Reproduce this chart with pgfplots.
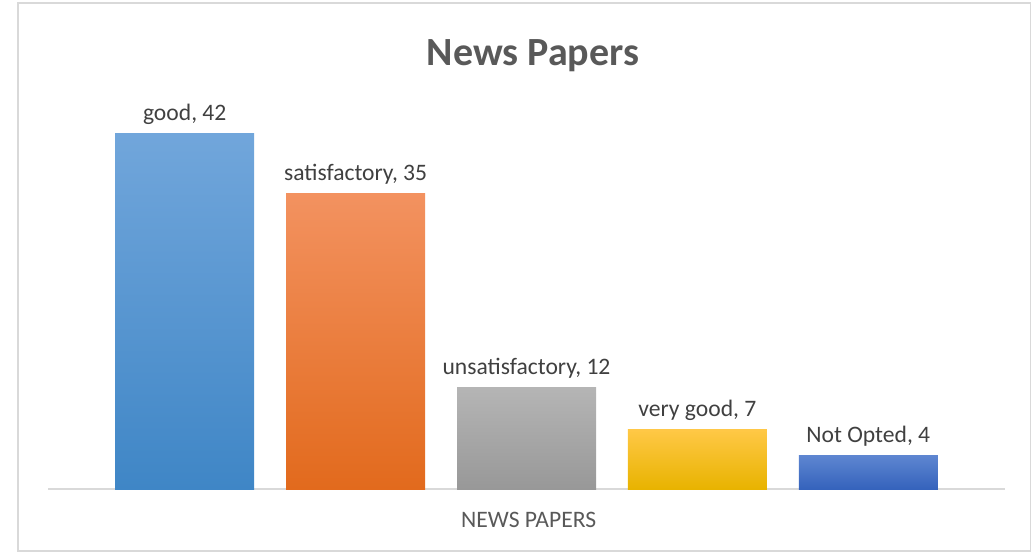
\documentclass[border=0pt]{standalone}
\usepackage{pgfplots}
\pgfplotsset{compat=1.18}
\usepackage{fontspec}
\setmainfont{Carlito}
\definecolor{frame}{HTML}{D9D9D9}
\definecolor{txt}{HTML}{404040}
\definecolor{ttl}{HTML}{595959}
\definecolor{cat}{HTML}{595959}
\definecolor{c1t}{HTML}{71A6DB}
\definecolor{c1b}{HTML}{3F86C6}
\definecolor{c2t}{HTML}{F39260}
\definecolor{c2b}{HTML}{E26A1D}
\definecolor{c3t}{HTML}{B5B5B5}
\definecolor{c3b}{HTML}{989898}
\definecolor{c4t}{HTML}{FFC846}
\definecolor{c4b}{HTML}{E8B300}
\definecolor{c5t}{HTML}{5E86D1}
\definecolor{c5b}{HTML}{3563BC}
\begin{document}
\begin{tikzpicture}
\useasboundingbox (0,0) rectangle (516pt,276pt);
\draw[draw=frame, line width=0.75pt] (9pt,0.5pt) rectangle (515.2pt,274.5pt);
\node[anchor=base, font=\bfseries\fontsize{20}{24}\selectfont, text=ttl] at (266.5pt,243pt) {News Papers};
\node[anchor=base, font=\fontsize{11.8}{14}\selectfont, text=cat] at (264.3pt,12.5pt) {NEWS PAPERS};
\begin{axis}[
  at={(24pt,31.5pt)}, anchor=south west,
  scale only axis, width=478.5pt, height=190.2pt,
  xmin=-0.8, xmax=4.8, ymin=0, ymax=45,
  hide axis, clip=false,
  bar width=69.5pt,
  every node near coord/.append style={anchor=base, yshift=6.5pt, font=\fontsize{11.8}{14}\selectfont, text=txt},
]
\draw[draw=frame, line width=0.75pt] (axis cs:-0.8,0) -- (axis cs:4.8,0);
\addplot[ybar, bar shift=0pt, draw=none, top color=c1t, bottom color=c1b, nodes near coords={good, 42}] coordinates {(0,42)};
\addplot[ybar, bar shift=0pt, draw=none, top color=c2t, bottom color=c2b, nodes near coords={satisfactory, 35}] coordinates {(1,35)};
\addplot[ybar, bar shift=0pt, draw=none, top color=c3t, bottom color=c3b, nodes near coords={unsatisfactory, 12}] coordinates {(2,12)};
\addplot[ybar, bar shift=0pt, draw=none, top color=c4t, bottom color=c4b, nodes near coords={very good, 7}] coordinates {(3,7)};
\addplot[ybar, bar shift=0pt, draw=none, top color=c5t, bottom color=c5b, nodes near coords={Not Opted, 4}] coordinates {(4,4)};
\end{axis}
\end{tikzpicture}
\end{document}
